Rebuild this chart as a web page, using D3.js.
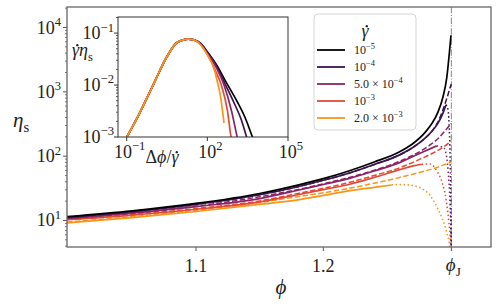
<!DOCTYPE html>
<html><head><meta charset="utf-8">
<script src="https://cdn.jsdelivr.net/npm/d3@7"></script>
<style>body{margin:0;background:#fff}svg{display:block}</style>
</head><body><svg id="c" width="498" height="308"></svg>
<script>
// ---------- DATA ----------
const rates = ["1e-5","1e-4","5e-4","1e-3","2e-3"];
const rateLabels = [["10","−5"],["10","−4"],["5.0 × 10","−4"],["10","−3"],["2.0 × 10","−3"]];
const colors = ["#000000","#3b1450","#8c2366","#e04b37","#f8961a"];
const phiJ = 1.3006;
const xTicks = [1.1, 1.2];
const yTickExps = [1,2,3,4];
// solid curves: phi and log10(eta_s)
const solidPhi = [
 [0.9987,1.05,1.1,1.15,1.18,1.2,1.22,1.24,1.26,1.27,1.28,1.285,1.29,1.294,1.297,1.299,1.3003],
 [0.9987,1.05,1.1,1.15,1.18,1.2,1.22,1.24,1.26,1.27,1.28,1.285,1.29,1.294,1.2964],
 [0.9987,1.05,1.1,1.15,1.18,1.2,1.22,1.24,1.26,1.27,1.28,1.2891],
 [0.9987,1.05,1.1,1.15,1.18,1.2,1.22,1.24,1.26,1.27,1.2773],
 [0.9987,1.05,1.1,1.15,1.18,1.2,1.22,1.24,1.2536]
];
const solidLogEta = [
 [1.06,1.15,1.265,1.42,1.55,1.65,1.77,1.91,2.07,2.19,2.37,2.50,2.68,2.92,3.22,3.6,3.88],
 [1.047,1.137,1.25,1.40,1.525,1.625,1.735,1.87,2.02,2.13,2.28,2.38,2.51,2.67,2.80],
 [1.031,1.115,1.215,1.34,1.47,1.56,1.65,1.77,1.90,1.99,2.08,2.16],
 [1.013,1.085,1.175,1.29,1.40,1.48,1.56,1.67,1.79,1.845,1.874],
 [0.963,1.045,1.14,1.25,1.32,1.39,1.46,1.515,1.552]
];
// dashed curves (index 1..4)
const dashedPhi = [
 null,
 [0.9987,1.05,1.1,1.15,1.18,1.2,1.22,1.24,1.26,1.27,1.28,1.285,1.29,1.294,1.2964,1.298,1.2995,1.3006],
 [0.9987,1.1,1.2,1.24,1.26,1.27,1.28,1.285,1.29,1.295,1.2985,1.3006],
 [0.9987,1.05,1.1,1.15,1.18,1.2,1.22,1.24,1.26,1.27,1.28,1.29,1.295,1.3006],
 [0.9987,1.05,1.1,1.15,1.18,1.2,1.22,1.24,1.26,1.28,1.29,1.3006]
];
const dashedLogEta = [
 null,
 [1.047,1.137,1.25,1.40,1.525,1.625,1.735,1.87,2.02,2.13,2.28,2.38,2.53,2.72,2.86,2.96,3.06,3.12],
 [1.034,1.22,1.57,1.78,1.92,2.01,2.12,2.19,2.27,2.38,2.46,2.51],
 [1.018,1.09,1.185,1.305,1.42,1.50,1.59,1.70,1.82,1.90,1.99,2.09,2.15,2.24],
 [0.975,1.06,1.16,1.28,1.37,1.43,1.50,1.58,1.67,1.77,1.83,1.91]
];
// dotted curves (index 1..4)
const dottedPhi = [
 null,
 [1.2964,1.2978,1.2988,1.2996,1.3001,1.3004,1.3006],
 [1.2891,1.2943,1.2969,1.2981,1.2995,1.3005,1.3007],
 [1.2773,1.2838,1.2895,1.2935,1.2965,1.2985,1.3001,1.3005],
 [1.2536,1.2605,1.268,1.276,1.2838,1.2895,1.293,1.2969,1.2995,1.3003]
];
const dottedLogEta = [
 null,
 [2.80,2.74,2.5,2.0,1.4,0.8,0.3],
 [2.16,2.14,1.99,1.76,1.28,0.6,0.3],
 [1.874,1.88,1.76,1.58,1.32,1.0,0.58,0.3],
 [1.552,1.56,1.55,1.51,1.39,1.20,1.05,0.82,0.56,0.3]
];
// inset: log10(dphi/gammadot), log10(gammadot*eta_s)
const insetRiseLogX = [-1.1,-0.5,0,0.5,0.85,1.05,1.29,1.5];
const insetRiseLogY = [-3.1,-2.52,-1.98,-1.45,-1.19,-1.14,-1.115,-1.13];
const insetFallLogX = [
 [1.75,2.0,2.35,2.65,3.09,3.4,3.68,3.8],
 [1.75,2.0,2.35,2.68,3.0,3.25,3.46,3.55],
 [1.75,2.0,2.35,2.62,2.9,3.11,3.2],
 [1.75,2.0,2.3,2.52,2.75,2.88,2.95],
 [1.75,1.97,2.28,2.40,2.47,2.62]
];
const insetFallLogY = [
 [-1.20,-1.36,-1.62,-1.90,-2.30,-2.62,-3.0,-3.15],
 [-1.20,-1.37,-1.64,-2.0,-2.35,-2.65,-3.0,-3.15],
 [-1.21,-1.39,-1.68,-2.0,-2.5,-3.0,-3.2],
 [-1.22,-1.41,-1.72,-2.0,-2.5,-3.0,-3.2],
 [-1.23,-1.39,-1.74,-2.0,-2.16,-2.73]
];
const insetYTickExps = [-1,-2,-3];
const insetXTickExps = [-1,2,5];

// ---------- CHART ----------
const FONT = "'Liberation Serif','Times New Roman',serif";
const TXT = "#222";
const svg = d3.select("#c");
const L=67,R=491,T=7,B=247;
const x = d3.scaleLinear().domain([0.99867,1.33174]).range([L,R]);
const y = d3.scaleLog().domain([Math.pow(10,0.588),Math.pow(10,4.319)]).range([B,T]);
const defs = svg.append("defs");
defs.append("clipPath").attr("id","mclip").append("rect").attr("x",L).attr("y",T).attr("width",R-L).attr("height",B-T);

function mathLabel(g, parts, xx, yy, size, anchor){
  const t = g.append("text").attr("x",xx).attr("y",yy).attr("font-size",size)
    .attr("font-family",FONT).attr("fill",TXT).attr("text-anchor",anchor||"start");
  const dots=[]; let idx=0;
  parts.forEach(p=>{
    const s=t.append("tspan").text(p.t);
    if(p.it) s.attr("font-style","italic");
    if(p.sup){ s.attr("font-size",size*0.7).attr("dy",-size*0.42); }
    if(p.sub){ s.attr("font-size",size*0.7).attr("dy",size*0.25); }
    if(p.dot) dots.push(idx);
    idx += p.t.length;
  });
  const n=t.node();
  dots.forEach(i=>{
    try{
      const a=n.getStartPositionOfChar(i), b=n.getEndPositionOfChar(i);
      g.append("circle").attr("cx",(a.x+b.x)/2+size*0.1).attr("cy",a.y-size*0.6).attr("r",size*0.065).attr("fill",TXT);
    }catch(e){}
  });
  return t;
}

// main y ticks
const ax = svg.append("g").attr("stroke","#555");
for(let e=0;e<=4;e++){
  for(let m=2;m<=9;m++){
    const v=m*Math.pow(10,e);
    if(v<y.domain()[0]||v>y.domain()[1]) continue;
    ax.append("line").attr("x1",L-2).attr("x2",L).attr("y1",y(v)).attr("y2",y(v)).attr("stroke-width",0.8);
  }
}
yTickExps.forEach(e=>{
  const yy=y(Math.pow(10,e));
  ax.append("line").attr("x1",L-4).attr("x2",L).attr("y1",yy).attr("y2",yy).attr("stroke-width",1);
  mathLabel(svg,[{t:"10"},{t:String(e),sup:true}],61,yy+6,18,"end");
});
xTicks.forEach(v=>{
  ax.append("line").attr("x1",x(v)).attr("x2",x(v)).attr("y1",B).attr("y2",B+4).attr("stroke-width",1);
  mathLabel(svg,[{t:v.toFixed(1)}],x(v),B+25,18,"middle");
});
ax.append("line").attr("x1",x(phiJ)).attr("x2",x(phiJ)).attr("y1",B).attr("y2",B+4).attr("stroke-width",1);
mathLabel(svg,[{t:"ϕ",it:true},{t:"J",sub:true}],x(phiJ)+2,B+24,19,"middle");

// phiJ line
svg.append("line").attr("x1",x(phiJ)).attr("x2",x(phiJ)).attr("y1",T).attr("y2",B)
  .attr("stroke","#888").attr("stroke-width",1).attr("stroke-dasharray","6.4,1.6,1,1.6");

// curves
const gC = svg.append("g").attr("clip-path","url(#mclip)");
const line = d3.line().x(d=>x(d[0])).y(d=>y(Math.pow(10,d[1]))).curve(d3.curveMonotoneX);
for(let i=4;i>=1;i--){
  const pts = dottedPhi[i].map((p,k)=>[p,dottedLogEta[i][k]]);
  gC.append("path").attr("d",line(pts)).attr("fill","none").attr("stroke",colors[i]).attr("stroke-width",1.5).attr("stroke-dasharray","1.5,2.5");
}
for(let i=4;i>=1;i--){
  const pts = dashedPhi[i].map((p,k)=>[p,dashedLogEta[i][k]]);
  gC.append("path").attr("d",line(pts)).attr("fill","none").attr("stroke",colors[i]).attr("stroke-width",1.5).attr("stroke-dasharray","5.5,2.4");
}
for(let i=4;i>=0;i--){
  const pts = solidPhi[i].map((p,k)=>[p,solidLogEta[i][k]]);
  gC.append("path").attr("d",line(pts)).attr("fill","none").attr("stroke",colors[i]).attr("stroke-width",1.7);
}

// main frame
svg.append("rect").attr("x",L).attr("y",T).attr("width",R-L).attr("height",B-T).attr("fill","none").attr("stroke","#666").attr("stroke-width",1.3);

// axis labels
mathLabel(svg,[{t:"η",it:true},{t:"s",sub:true}],13,127,21,"start");
mathLabel(svg,[{t:"ϕ",it:true}],281,294,21,"middle");

// legend
const lg = svg.append("g");
lg.append("rect").attr("x",314).attr("y",14).attr("width",102).attr("height",116).attr("rx",4)
  .attr("fill","#fff").attr("fill-opacity",0.85).attr("stroke","#d5d5d5").attr("stroke-width",1);
mathLabel(lg,[{t:"γ",it:true,dot:true}],365,37,18,"middle");
rateLabels.forEach((lab,i)=>{
  const yy=50+i*17;
  lg.append("line").attr("x1",317).attr("x2",345).attr("y1",yy).attr("y2",yy).attr("stroke",colors[i]).attr("stroke-width",1.8);
  mathLabel(lg,[{t:lab[0]},{t:lab[1],sup:true}],354,yy+4,12,"start");
});

// inset
const IL=118,IR=288,IT=17,IB=137;
const ix = d3.scaleLog().domain([Math.pow(10,-1.323),1e5]).range([IL,IR]);
const iy = d3.scaleLog().domain([1e-3,Math.pow(10,-0.69)]).range([IB,IT]);
defs.append("clipPath").attr("id","iclip").append("rect").attr("x",IL).attr("y",IT).attr("width",IR-IL).attr("height",IB-IT);
svg.append("rect").attr("x",IL).attr("y",IT).attr("width",IR-IL).attr("height",IB-IT).attr("fill","#fff");
const gi = svg.append("g").attr("clip-path","url(#iclip)");
const iline = d3.line().x(d=>ix(Math.pow(10,d[0]))).y(d=>iy(Math.pow(10,d[1]))).curve(d3.curveMonotoneX);
for(let i=0;i<5;i++){
  const pts = insetRiseLogX.map((u,k)=>[u,insetRiseLogY[k]]).concat(insetFallLogX[i].map((u,k)=>[u,insetFallLogY[i][k]]));
  gi.append("path").attr("d",iline(pts)).attr("fill","none").attr("stroke",colors[i]).attr("stroke-width",1.7);
}
svg.append("rect").attr("x",IL).attr("y",IT).attr("width",IR-IL).attr("height",IB-IT).attr("fill","none").attr("stroke","#333").attr("stroke-width",1);
for(let e=-3;e<=-1;e++){
  for(let m=2;m<=9;m++){
    const v=m*Math.pow(10,e);
    if(v>iy.domain()[1]) continue;
    svg.append("line").attr("x1",IL-2).attr("x2",IL).attr("y1",iy(v)).attr("y2",iy(v)).attr("stroke","#333").attr("stroke-width",0.8);
  }
}
insetYTickExps.forEach(e=>{
  const yy=iy(Math.pow(10,e));
  svg.append("line").attr("x1",IL-4).attr("x2",IL).attr("y1",yy).attr("y2",yy).attr("stroke","#333");
  mathLabel(svg,[{t:"10"},{t:"−"+Math.abs(e),sup:true}],114,yy+6,18,"end");
});
insetXTickExps.forEach(e=>{
  const xx=ix(Math.pow(10,e));
  svg.append("line").attr("x1",xx).attr("x2",xx).attr("y1",IB).attr("y2",IB+4).attr("stroke","#333");
  mathLabel(svg,[{t:"10"},{t:(e<0?"−":"")+Math.abs(e),sup:true}],xx+3,IB+21,18,"middle");
});
mathLabel(svg,[{t:"Δ"},{t:"ϕ",it:true},{t:"/"},{t:"γ",it:true,dot:true}],162,163,18,"middle");
mathLabel(svg,[{t:"γ",it:true,dot:true},{t:"η",it:true},{t:"s",sub:true}],72,56,18,"start");
</script></body></html>
